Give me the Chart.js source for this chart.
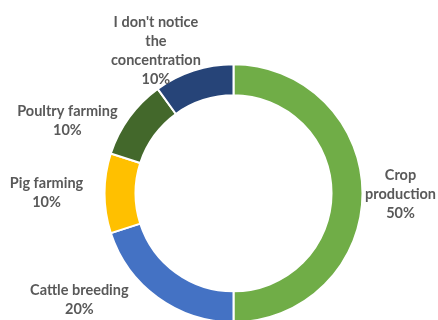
<!DOCTYPE html>
<html>
<head>
<meta charset="utf-8">
<script src="https://cdn.jsdelivr.net/npm/chart.js@4"></script>
<style>
  html, body { margin: 0; padding: 0; background: #fff; overflow: hidden; }
  #wrap { width: 438px; height: 320px; overflow: hidden; }
</style>
</head>
<body>
<div id="wrap"><canvas id="donut" width="438" height="340"></canvas></div>
<script>
// categories (split into the lines the original shows)
const categories = [
  ["Crop", "production"],
  ["Cattle breeding"],
  ["Pig farming"],
  ["Poultry farming"],
  ["I don't notice", "the", "concentration"],
];
const shares = [50, 20, 10, 10, 10];
const colors = ["#70ad47", "#4472c4", "#ffc000", "#43682b", "#264478"];

// small nudges for where Excel put each label, relative to the mid-angle anchor
const labelNudge = [[0, 1], [-56, -29], [-20, 0], [-31, 26], [-26, 16]];

const ctx = document.getElementById("donut").getContext("2d");

const outsideLabels = {
  id: "outsideLabels",
  afterDatasetsDraw(chart) {
    const meta = chart.getDatasetMeta(0);
    const c = chart.ctx;
    const lineH = 19;
    c.save();
    c.font = "bold 14.5px Lato";
    c.fillStyle = "#595959";
    c.textAlign = "center";
    c.textBaseline = "middle";
    meta.data.forEach((arc, i) => {
      const p = arc.getProps(["x", "y", "startAngle", "endAngle", "outerRadius"], true);
      const mid = (p.startAngle + p.endAngle) / 2;
      const r = p.outerRadius + 38;
      const ax = p.x + Math.cos(mid) * r + labelNudge[i][0];
      const ay = p.y + Math.sin(mid) * r + labelNudge[i][1];
      const lines = categories[i].concat([shares[i] + "%"]);
      const top = ay - ((lines.length - 1) * lineH) / 2;
      lines.forEach((t, k) => c.fillText(t, ax, top + k * lineH));
    });
    c.restore();
  },
};

const chart = new Chart(ctx, {
  type: "doughnut",
  data: {
    labels: categories,
    datasets: [
      {
        data: shares,
        backgroundColor: colors,
        borderColor: "#ffffff",
        borderWidth: 2,
      },
    ],
  },
  options: {
    responsive: false,
    animation: false,
    cutout: "76%",
    layout: {
      padding: { left: 103.5, right: 74.5, top: 63.3, bottom: 16.7 },
    },
    plugins: {
      legend: { display: false },
      tooltip: { enabled: false },
    },
  },
  plugins: [outsideLabels],
});
</script>
</body>
</html>
